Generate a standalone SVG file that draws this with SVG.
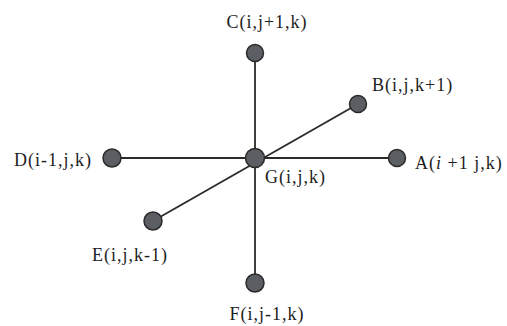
<svg xmlns="http://www.w3.org/2000/svg" width="507" height="326" viewBox="0 0 507 326">
<style>
.edge{stroke:#2a2a2a;stroke-width:1.8;fill:none}
.node{fill:#5b5e62;stroke:#2a2a2a;stroke-width:1.5}
.lbl{font-family:"Liberation Serif","Times New Roman",serif;font-size:18px;fill:#1e1e1e;letter-spacing:1px}
</style>
<rect width="507" height="326" fill="#ffffff"/>
<g id="connectors">
<line class="edge" x1="255" y1="53" x2="255" y2="283"/>
<line class="edge" x1="112" y1="158" x2="397" y2="158"/>
<line class="edge" x1="153" y1="221" x2="358" y2="104"/>
</g>
<g id="nodeC"><circle class="node" cx="255" cy="53" r="8.5"/><text class="lbl" x="267" y="28" text-anchor="middle">C(i,j+1,k)</text></g>
<g id="nodeB"><circle class="node" cx="358" cy="104" r="8.5"/><text class="lbl" x="372" y="91">B(i,j,k+1)</text></g>
<g id="nodeD"><circle class="node" cx="112" cy="158" r="9"/><text class="lbl" x="14" y="166">D(i-1,j,k)</text></g>
<g id="nodeA"><circle class="node" cx="397" cy="158" r="8.5"/><text class="lbl" x="415" y="169">A(<tspan font-style="italic">i</tspan> +1 j,k)</text></g>
<g id="nodeG"><circle class="node" cx="255" cy="158" r="9.5"/><text class="lbl" x="265" y="183">G(i,j,k)</text></g>
<g id="nodeE"><circle class="node" cx="153" cy="221" r="9"/><text class="lbl" x="92" y="261">E(i,j,k-1)</text></g>
<g id="nodeF"><circle class="node" cx="255" cy="283" r="9"/><text class="lbl" x="267" y="320" text-anchor="middle">F(i,j-1,k)</text></g>
</svg>
